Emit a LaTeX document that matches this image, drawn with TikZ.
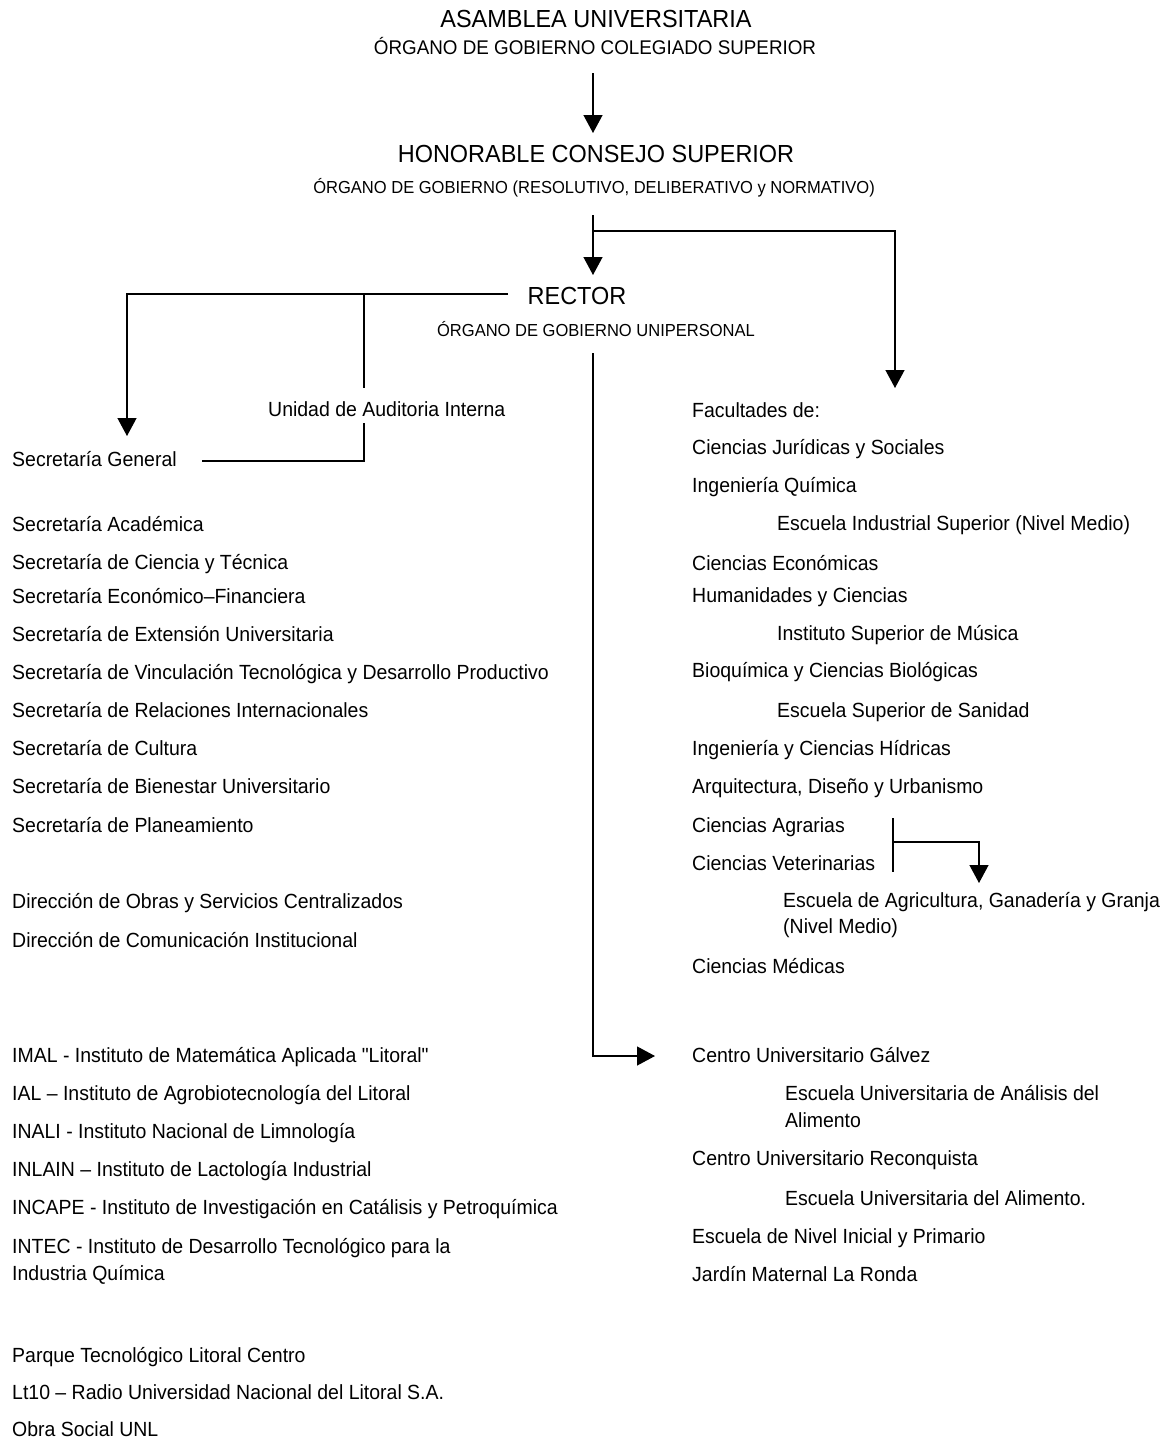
\documentclass[tikz,border=0pt]{standalone}
\usepackage{fontspec}
\setmainfont{Liberation Sans}[FakeStretch=0.95]
\newfontfamily\plainfont{Liberation Sans}[FakeStretch=0.95]
\usetikzlibrary{arrows.meta}
\begin{document}
\begin{tikzpicture}[x=1pt,y=-1pt,
  txt/.style={anchor=base west,inner sep=0pt,font=\fontsize{20.5}{24}\selectfont},
  head/.style={anchor=base,inner sep=0pt,font=\fontsize{24.7}{28}\selectfont},
  subA/.style={anchor=base,inner sep=0pt,font=\fontsize{19.8}{22}\selectfont},
  subB/.style={anchor=base,inner sep=0pt,font=\fontsize{17.4}{20}\selectfont},
  ln/.style={line width=1.3pt},
  arr/.style={ln,-{Triangle[length=18pt,width=19pt]}}]
\useasboundingbox[fill=white] (0,0) rectangle (1164,1441);

% headers
\node[head] (asam) at (596,27) {ASAMBLEA UNIVERSITARIA};
\node[subA] (asub) at (595,54) {ÓRGANO DE GOBIERNO COLEGIADO SUPERIOR};
\node[head] (hcs) at (596,162) {HONORABLE CONSEJO SUPERIOR};
\node[subB] (hsub) at (594,193) {ÓRGANO DE GOBIERNO (RESOLUTIVO, DELIBERATIVO y NORMATIVO)};
\node[head] (rector) at (577,304) {RECTOR};
\node[subB] (rsub) at (596,336) {ÓRGANO DE GOBIERNO UNIPERSONAL};

% left column
\node[txt] (uai) at (268,416) {Unidad de Auditoria Interna};
\node[txt] (sg) at (12,466) {Secretaría General};
\node[txt] (sa) at (12,531) {Secretaría Académica};
\node[txt] (sct) at (12,569) {Secretaría de Ciencia y Técnica};
\node[txt] (sef) at (12,603) {Secretaría Económico–Financiera};
\node[txt] (seu) at (12,641) {Secretaría de Extensión Universitaria};
\node[txt] (svt) at (12,679) {Secretaría de Vinculación Tecnológica y Desarrollo Productivo};
\node[txt] (sri) at (12,717) {Secretaría de Relaciones Internacionales};
\node[txt] (sc) at (12,755) {Secretaría de Cultura};
\node[txt] (sbu) at (12,793) {Secretaría de Bienestar Universitario};
\node[txt] (sp) at (12,832) {Secretaría de Planeamiento};
\node[txt] (dos) at (12,908) {Dirección de Obras y Servicios Centralizados};
\node[txt] (dci) at (12,947) {Dirección de Comunicación Institucional};
\node[txt] (imal) at (12,1062) {\plainfont IMAL - Instituto de Matemática Aplicada "Litoral"};
\node[txt] (ial) at (12,1100) {IAL – Instituto de Agrobiotecnología del Litoral};
\node[txt] (inali) at (12,1138) {INALI - Instituto Nacional de Limnología};
\node[txt] (inlain) at (12,1176) {INLAIN – Instituto de Lactología Industrial};
\node[txt] (incape) at (12,1214) {INCAPE - Instituto de Investigación en Catálisis y Petroquímica};
\node[txt] (intec) at (12,1253) {INTEC - Instituto de Desarrollo Tecnológico para la};
\node[txt] (intec2) at (12,1280) {Industria Química};
\node[txt] (ptlc) at (12,1362) {Parque Tecnológico Litoral Centro};
\node[txt] (lt10) at (12,1399) {Lt10 – Radio Universidad Nacional del Litoral S.A.};
\node[txt] (osu) at (12,1436) {Obra Social UNL};

% right column
\node[txt] (fac) at (692,417) {Facultades de:};
\node[txt] (cjs) at (692,454) {Ciencias Jurídicas y Sociales};
\node[txt] (iq) at (692,492) {Ingeniería Química};
\node[txt] (eis) at (777,530) {Escuela Industrial Superior (Nivel Medio)};
\node[txt] (ce) at (692,570) {Ciencias Económicas};
\node[txt] (hc) at (692,602) {Humanidades y Ciencias};
\node[txt] (ism) at (777,640) {Instituto Superior de Música};
\node[txt] (bcb) at (692,677) {Bioquímica y Ciencias Biológicas};
\node[txt] (ess) at (777,717) {Escuela Superior de Sanidad};
\node[txt] (ich) at (692,755) {Ingeniería y Ciencias Hídricas};
\node[txt] (adu) at (692,793) {Arquitectura, Diseño y Urbanismo};
\node[txt] (ca) at (692,832) {Ciencias Agrarias};
\node[txt] (cv) at (692,870) {Ciencias Veterinarias};
\node[txt] (eag) at (783,907) {Escuela de Agricultura, Ganadería y Granja};
\node[txt] (eag2) at (783,933) {(Nivel Medio)};
\node[txt] (cm) at (692,973) {Ciencias Médicas};
\node[txt] (cug) at (692,1062) {Centro Universitario Gálvez};
\node[txt] (eua) at (785,1100) {Escuela Universitaria de Análisis del};
\node[txt] (eua2) at (785,1127) {Alimento};
\node[txt] (cur) at (692,1165) {Centro Universitario Reconquista};
\node[txt] (eual) at (785,1205) {Escuela Universitaria del Alimento.};
\node[txt] (enip) at (692,1243) {Escuela de Nivel Inicial y Primario};
\node[txt] (jmr) at (692,1281) {Jardín Maternal La Ronda};

% junction coordinates
\coordinate (a1s) at (593,73);   \coordinate (a1e) at (593,133);
\coordinate (a2s) at (593,215);  \coordinate (a2e) at (593,275);
\coordinate (a2j) at (593,231);  \coordinate (a2r) at (895,231);
\coordinate (a2f) at (895,388);
\coordinate (rl0) at (508,294);  \coordinate (rl1) at (127,294);
\coordinate (rl2) at (127,436);
\coordinate (uj) at (364,294);   \coordinate (ut) at (364,388);
\coordinate (ub) at (364,423);   \coordinate (uc) at (364,461);
\coordinate (sgr) at (202,461);
\coordinate (rd0) at (593,353);  \coordinate (rd1) at (593,1056);
\coordinate (rd2) at (655,1056);
\coordinate (bt) at (893,818);   \coordinate (bb) at (893,872);
\coordinate (bj) at (893,842);   \coordinate (br) at (979,842);
\coordinate (be) at (979,883);

% connectors
\draw[arr] (a1s) -- (a1e);
\draw[arr] (a2s) -- (a2e);
\draw[arr] (a2j) -- (a2r) -- (a2f);
\draw[arr] (rl0) -- (rl1) -- (rl2);
\draw[ln] (uj) -- (ut);
\draw[ln] (ub) -- (uc) -- (sgr);
\draw[arr] (rd0) -- (rd1) -- (rd2);
\draw[ln] (bt) -- (bb);
\draw[arr] (bj) -- (br) -- (be);
\end{tikzpicture}
\end{document}
